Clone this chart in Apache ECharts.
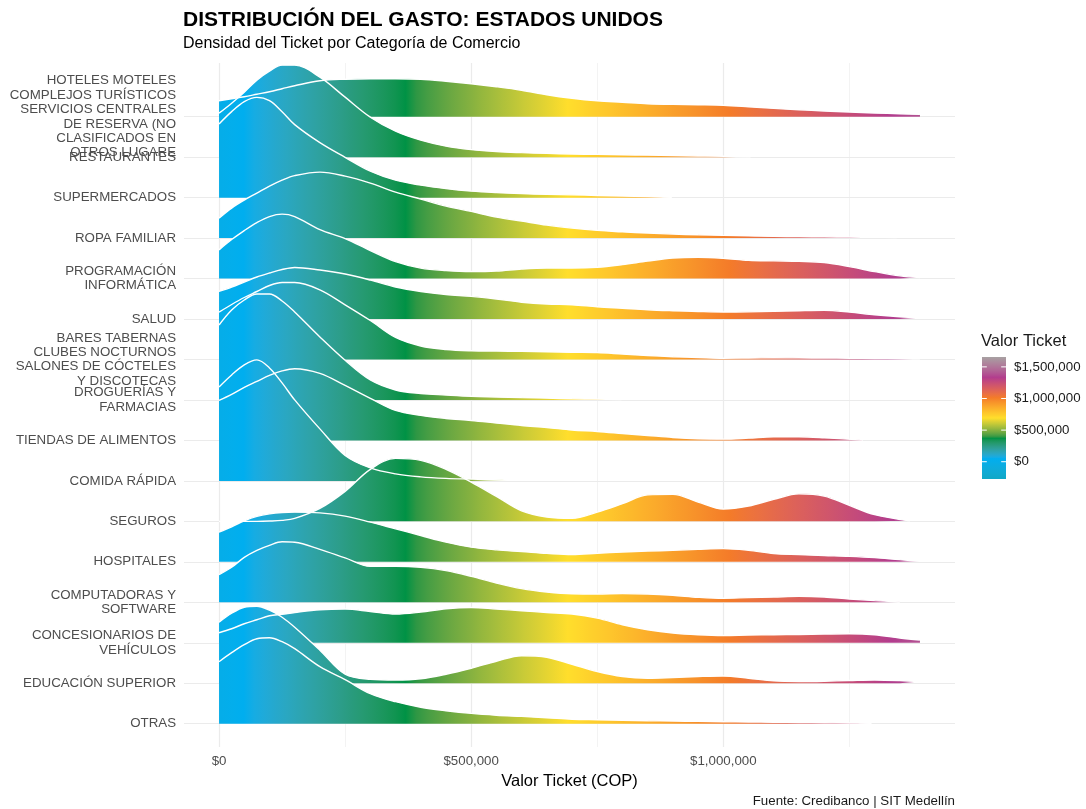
<!DOCTYPE html>
<html>
<head>
<meta charset="utf-8">
<script src="https://cdn.jsdelivr.net/npm/echarts@6/dist/echarts.min.js"></script>
<style>html,body{margin:0;padding:0;background:#fff}#chart{width:1086px;height:809px}</style>
</head>
<body>
<div id="chart"></div>
<script>
// ---------------- DATA ----------------
// categories, bottom (index 0) to top (index 15)
const categories = [
  'OTRAS',
  'EDUCACIÓN SUPERIOR',
  'CONCESIONARIOS DE\nVEHÍCULOS',
  'COMPUTADORAS Y\nSOFTWARE',
  'HOSPITALES',
  'SEGUROS',
  'COMIDA RÁPIDA',
  'TIENDAS DE ALIMENTOS',
  'DROGUERÍAS Y\nFARMACIAS',
  'BARES TABERNAS\nCLUBES NOCTURNOS\nSALONES DE CÓCTELES\nY DISCOTECAS',
  'SALUD',
  'PROGRAMACIÓN\nINFORMÁTICA',
  'ROPA FAMILIAR',
  'SUPERMERCADOS',
  'RESTAURANTES',
  'HOTELES MOTELES\nCOMPLEJOS TURÍSTICOS\nSERVICIOS CENTRALES\nDE RESERVA (NO\nCLASIFICADOS EN\nOTROS LUGARE'
];

// ticket values (COP) where the densities are sampled
const ticketGrid = [0, 25000, 50000, 75000, 100000, 125000, 150000, 200000, 250000, 300000, 350000,
  400000, 450000, 500000, 550000, 600000, 650000, 700000, 750000, 800000, 850000, 900000, 950000,
  1000000, 1050000, 1100000, 1150000, 1200000, 1250000, 1300000, 1350000, 1390000];

// last ticket value of each ridge (same order as categories)
const ridgeEnd = [1294000, 1390000, 1390000, 1350000, 1390000, 1370000, 573000, 1277000, 798000,
  1390000, 1390000, 1390000, 1344000, 898000, 1054000, 1390000];

// scaled densities (ridge heights) per category
const dOtras = [62,71,79,85,86,82,75,57,44,30,22,16.5,13,10.3,8.5,7.3,6,4.5,4,3.5,3,2.7,2.3,2,1.7,1.5,1.2,1,0.7,0.4];
const dEducacion = [61,70,76,77,73,66,56,33,9,4,3.3,4.5,9,15,22,27.5,26,19,11.7,6.7,5,5.7,6.7,7.3,5,2.3,1.7,2,2.7,3.3,2.7,1.7];
const dConcesionarios = [10,14,19,23,27,28.5,30.3,33,33.7,31.3,28.7,30.7,34,35.3,33.7,32,30.3,28.7,24.7,18,13,9.7,8,7.3,7.7,8,8.3,8.7,9,8,4.7,2.7];
const dComputadoras = [27.7,35,45,52,57,60.5,60,53,44.4,36,36,35,31.7,26,19.3,13.7,10.3,8.5,8.3,8.7,8.3,7,5,4,4.7,5.3,6,5.3,3.3,1.7,0.3];
const dHospitales = [29.7,35,41,45.5,48,49.3,49.7,49,45.7,39.7,33,26.3,19.7,14.7,12,10.3,8.5,7.3,8.5,9.8,10.8,11.5,12.5,13.2,11.5,8.2,7.2,6.3,5.5,4.2,2.2,0.8];
const dSeguros = [0,0,0,0,0.3,1,3,13,30,52,63,61,52,39.3,25,10.5,4.3,3,9.3,17.7,26.5,27,19.3,12.3,15.3,22,27.5,25.3,16,6.7,0.5];
const dComida = [94,106,116,121,113,98,81,52,25.5,13,7,4,2.5,1.8,0.8];
const dTiendas = [40,46,53,59,65,69.5,71.7,67,55,42,30,25,22,20,17.5,15,13,10.5,9,7,5,3,1.7,1.3,2.3,3.7,3.7,2.7,0.3];
const dDroguerias = [75,90,100,106,106,99,88,63,39.7,20,10,6.5,5,3.7,3,2.3,1.8,1.2,0.8,0.3];
const dBares = [47.4,55,62,68,74,77,77,69.7,54.7,39,22,13.5,10,8.7,8.4,8.2,7.8,7.3,7,5.5,4,2.8,2,1.3,1.5,1.7,1.6,1.4,1.3,1,0.8,0.7];
const dSalud = [27.6,32,37,42,46,49.5,51.6,49,45,39,32,27.5,24.5,22.7,20,16.8,15,14.3,12.3,10.8,9.3,8.3,7.5,7,7.2,7.7,8.3,8.7,7,4.3,2.3,1.3];
const dProgramacion = [28.7,39,48,56,62,64.4,62,49,40,28,17,10.5,8,7,7.5,9.5,10.5,10.5,11.3,14,17.5,20.5,21.3,20.3,18.3,17.7,17.2,16,12,7,2.7,1];
const dRopa = [20,30,38,45,52,58,62.5,66,62,55,46,39,32,26.7,21,17,13,10,7.7,6.2,5,4,3.3,2.7,2.2,1.7,1.5,1.3,1,0.8,0.5];
const dSupermercados = [73.7,86,96,100.3,97,86,73,55,40.3,26.5,17.5,12.5,9,6.5,5,4,3.3,2.8,2.2,1.6,1,0.4];
const dRestaurantes = [44,54,65,77,86,92,92,80,60,40,26,17,11,7.5,5.5,4.5,3.8,3.2,2.8,2.4,2,1.6,1.2,0.9,0.4];
const dHoteles = [16,18,20,22.5,25,28,31,36,37.5,38,38,37.5,35.5,33,30,26.5,22,18.5,16,14.5,13,12.3,12,11.5,10,8.3,7,5.7,4.7,3.7,3,2.3];

const densities = [dOtras, dEducacion, dConcesionarios, dComputadoras, dHospitales, dSeguros, dComida,
  dTiendas, dDroguerias, dBares, dSalud, dProgramacion, dRopa, dSupermercados, dRestaurantes, dHoteles];

// axis / legend ticks
const xTickValues = [0, 500000, 1000000];
const xMajorGrid = [0, 500000, 1000000];
const xMinorGrid = [250000, 750000, 1250000];
const legendTicks = [0, 500000, 1000000, 1500000];
const fillLimits = [-273000, 1656000];
const fillColors = ['#10A8C6', '#00AEEF', '#009245', '#FFDE2C', '#F47B29', '#B23D8E', '#A7A1A2'];

// ---------------- STYLE / HELPERS ----------------
const RIDGE_SCALE = 1 / 40.47;   // ridge height -> row units
const Y_MIN = -0.576, Y_MAX = 16.327;
const FONT = '"Liberation Sans", Arial, sans-serif';
const money = v => '$' + Math.round(v).toLocaleString('en-US');

function srgbToLin(c){ c/=255; return c<=0.04045? c/12.92 : Math.pow((c+0.055)/1.055,2.4); }
function linToSrgb(c){ const v = c<=0.0031308? 12.92*c : 1.055*Math.pow(c,1/2.4)-0.055; return Math.round(Math.max(0,Math.min(1,v))*255); }
function hexToLab(h){
  const r=srgbToLin(parseInt(h.slice(1,3),16)), g=srgbToLin(parseInt(h.slice(3,5),16)), b=srgbToLin(parseInt(h.slice(5,7),16));
  const X=(0.4124*r+0.3576*g+0.1805*b)/0.95047, Y=(0.2126*r+0.7152*g+0.0722*b), Z=(0.0193*r+0.1192*g+0.9505*b)/1.08883;
  const f=t=> t>0.008856? Math.cbrt(t) : 7.787*t+16/116;
  const fx=f(X), fy=f(Y), fz=f(Z);
  return [116*fy-16, 500*(fx-fy), 200*(fy-fz)];
}
function labToRgb(L){
  const fy=(L[0]+16)/116, fx=fy+L[1]/500, fz=fy-L[2]/200;
  const fi=t=> t*t*t>0.008856? t*t*t : (t-16/116)/7.787;
  const X=fi(fx)*0.95047, Y=fi(fy), Z=fi(fz)*1.08883;
  const r=3.2406*X-1.5372*Y-0.4986*Z, g=-0.9689*X+1.8758*Y+0.0415*Z, b=0.0557*X-0.2040*Y+1.0570*Z;
  return 'rgb(' + [r,g,b].map(linToSrgb).join(',') + ')';
}
function buildStops(n){
  const labs = fillColors.map(hexToLab);
  const stops = [];
  for (let i=0;i<=n;i++){
    const t=i/n, s=t*(labs.length-1), k=Math.min(Math.floor(s), labs.length-2), u=s-k;
    const L=[0,1,2].map(j=> labs[k][j]*(1-u)+labs[k+1][j]*u);
    stops.push({offset:t, color:labToRgb(L)});
  }
  return stops;
}
const STOPS = buildStops(90);

// ---------------- CHART ----------------
const chart = echarts.init(document.getElementById('chart'), null, {renderer:'canvas'});

const ridgeSeries = [];
for (let r = categories.length - 1; r >= 0; r--) {
  const d = densities[r];
  const data = d.map((h, i) => [i === d.length - 1 ? ridgeEnd[r] : ticketGrid[i], r + h * RIDGE_SCALE]);
  ridgeSeries.push({
    type: 'line', name: categories[r], data, xAxisIndex: 0, yAxisIndex: 0,
    showSymbol: false, symbol: 'none', smooth: 0.35, silent: true, z: 3,
    lineStyle: {color: '#ffffff', width: 1.4},
    areaStyle: {origin: r, opacity: 1, color: '#00AEEF'},
    animation: false
  });
}

const gridLines = [];
xMajorGrid.forEach(v => gridLines.push({xAxis: v, lineStyle: {color: '#EBEBEB', width: 1.2, type: 'solid'}}));
xMinorGrid.forEach(v => gridLines.push({xAxis: v, lineStyle: {color: '#F2F2F2', width: 0.9, type: 'solid'}}));
categories.forEach((c, i) => gridLines.push({yAxis: i, lineStyle: {color: '#EBEBEB', width: 1.2, type: 'solid'}}));

// label positions: one per category, plus an empty sentinel at the axis max
const yLabelValues = categories.map((c, i) => i).concat([Y_MAX]);

const option = {
  animation: false,
  backgroundColor: '#ffffff',
  textStyle: {fontFamily: FONT},
  title: [
    {text: 'DISTRIBUCIÓN DEL GASTO: ESTADOS UNIDOS', left: 183, top: 10, padding: 0,
      textStyle: {fontFamily: FONT, fontSize: 21, fontWeight: 'bold', color: '#000', lineHeight: 21}},
    {text: 'Densidad del Ticket por Categoría de Comercio', left: 183, top: 36, padding: 0,
      textStyle: {fontFamily: FONT, fontSize: 16, fontWeight: 'normal', color: '#000', lineHeight: 16}},
    {text: 'Fuente: Credibanco | SIT Medellín', right: 131, top: 795, padding: 0,
      textStyle: {fontFamily: FONT, fontSize: 13.3, fontWeight: 'normal', color: '#1a1a1a', lineHeight: 13.3}},
    {text: 'Valor Ticket', left: 981, top: 333, padding: 0,
      textStyle: {fontFamily: FONT, fontSize: 16.5, fontWeight: 'normal', color: '#1a1a1a', lineHeight: 16.5}}
  ],
  grid: [
    {left: 184, right: 131, top: 63, bottom: 62, containLabel: false},
    {left: 982, top: 357, width: 24, height: 122, containLabel: false}
  ],
  xAxis: [
    {type: 'value', gridIndex: 0, min: -69500, max: 1459500,
      axisLine: {show: false}, axisTick: {show: false}, splitLine: {show: false},
      axisLabel: {customValues: xTickValues, formatter: money, color: '#4D4D4D', fontSize: 13.3, margin: 8,
        fontFamily: FONT, showMinLabel: true, showMaxLabel: true, hideOverlap: false},
      name: 'Valor Ticket (COP)', nameLocation: 'middle', nameGap: 24,
      nameTextStyle: {color: '#000', fontSize: 16.5, fontFamily: FONT}},
    {type: 'value', gridIndex: 1, min: 0, max: 1, show: false}
  ],
  yAxis: [
    {type: 'value', gridIndex: 0, min: Y_MIN, max: Y_MAX,
      axisLine: {show: false}, axisTick: {show: false}, splitLine: {show: false},
      axisLabel: {customValues: yLabelValues,
        formatter: v => (Math.abs(v - Math.round(v)) < 1e-6 && categories[Math.round(v)]) || '',
        color: '#4D4D4D', fontSize: 13.3, lineHeight: 14.4, margin: 8, align: 'right', fontFamily: FONT,
        showMinLabel: true, showMaxLabel: false, hideOverlap: false}},
    {type: 'value', gridIndex: 1, min: fillLimits[0], max: fillLimits[1], position: 'right',
      axisLine: {show: false}, axisTick: {show: false}, splitLine: {show: false},
      axisLabel: {customValues: legendTicks, formatter: money, color: '#1a1a1a', fontSize: 13.3, margin: 8,
        fontFamily: FONT, showMinLabel: true, showMaxLabel: true, hideOverlap: false}}
  ],
  series: [
    {type: 'line', data: [], xAxisIndex: 0, yAxisIndex: 0, silent: true, z: 1,
      markLine: {silent: true, symbol: ['none', 'none'], label: {show: false}, z: 1, animation: false, data: gridLines}},
    ...ridgeSeries,
    {type: 'custom', xAxisIndex: 1, yAxisIndex: 1, silent: true, data: [[0, 1]],
      renderItem: (params, api) => {
        const p0 = api.coord([0, fillLimits[0]]);
        const p1 = api.coord([1, fillLimits[1]]);
        const w = p1[0] - p0[0];
        const children = [{type: 'rect', shape: {x: p0[0], y: p1[1], width: w, height: p0[1] - p1[1]},
          style: {fill: new echarts.graphic.LinearGradient(0, 1, 0, 0, STOPS)}}];
        legendTicks.forEach(v => {
          const a = api.coord([0, v]);
          children.push({type: 'line', shape: {x1: p0[0], y1: a[1], x2: p0[0] + w * 0.2, y2: a[1]}, style: {stroke: '#fff', lineWidth: 1}});
          children.push({type: 'line', shape: {x1: p1[0] - w * 0.2, y1: a[1], x2: p1[0], y2: a[1]}, style: {stroke: '#fff', lineWidth: 1}});
        });
        return {type: 'group', children};
      }}
  ]
};

chart.setOption(option);

// horizontal gradient mapped through the x axis scale
const gx0 = chart.convertToPixel({xAxisIndex: 0}, fillLimits[0]);
const gx1 = chart.convertToPixel({xAxisIndex: 0}, fillLimits[1]);
const ridgeGradient = new echarts.graphic.LinearGradient(gx0, 0, gx1, 0, STOPS, true);
chart.setOption({
  series: [{}, ...ridgeSeries.map(() => ({areaStyle: {color: ridgeGradient}})), {}]
});
</script>
</body>
</html>
